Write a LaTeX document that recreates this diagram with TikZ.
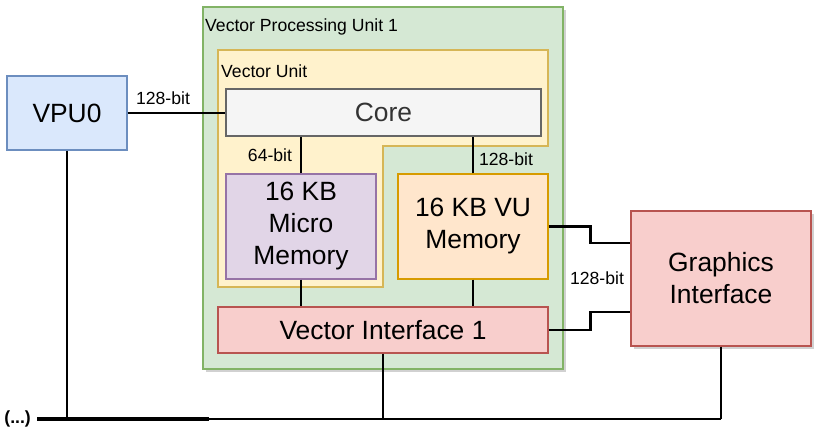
\documentclass[tikz,border=0pt]{standalone}
\usepackage{fontspec}
\setmainfont{Liberation Sans}
\usetikzlibrary{shadows,calc}
\definecolor{gfill}{HTML}{D5E8D4}\definecolor{gline}{HTML}{82B366}
\definecolor{yfill}{HTML}{FFF2CC}\definecolor{yline}{HTML}{D6B656}
\definecolor{cfill}{HTML}{F5F5F5}\definecolor{cline}{HTML}{666666}\definecolor{ctext}{HTML}{333333}
\definecolor{pfill}{HTML}{E1D5E7}\definecolor{pline}{HTML}{9673A6}
\definecolor{ofill}{HTML}{FFE6CC}\definecolor{oline}{HTML}{D79B00}
\definecolor{rfill}{HTML}{F8CECC}\definecolor{rline}{HTML}{B85450}
\definecolor{bfill}{HTML}{DAE8FC}\definecolor{bline}{HTML}{6C8EBF}
\newcommand\bigfont{\fontsize{26.4}{32}\selectfont}
\newcommand\smallfont{\fontsize{17.6}{21}\selectfont}
\begin{document}
\begin{tikzpicture}[x=1pt,y=-1pt,
  blk/.style={draw, line width=1.4pt, inner sep=0pt, align=center, font=\bigfont},
  shad/.style={drop shadow={shadow xshift=2.5pt, shadow yshift=-2.5pt, opacity=0.18, fill=black}},
  thinw/.style={line width=1.1pt},
  thickw/.style={line width=2.9pt},
  lbl/.style={font=\smallfont, inner sep=0pt}]
\useasboundingbox (0,0) rectangle (821,429);
% outer container
\node[blk, shad, fill=gfill, draw=gline, minimum width=360pt, minimum height=362pt] (vpu1) at (383,188) {};
\node[lbl, anchor=west] (vpu1lbl) at (205,27) {Vector Processing Unit 1};
% vector unit (L-shaped)
\draw[line width=1.4pt, draw=yline, fill=yfill] (218,50) -- (548,50) -- (548,146) -- (383,146) -- (383,287) -- (218,287) -- cycle;
\node[lbl, anchor=west] (vulbl) at (221,71) {Vector Unit};
% blocks
\node[blk, fill=cfill, draw=cline, text=ctext, minimum width=315pt, minimum height=47pt] (core) at (383.5,112.5) {Core};
\node[blk, fill=pfill, draw=pline, minimum width=150pt, minimum height=105pt] (micro) at (301,226.5) {16 KB\\Micro\\Memory};
\node[blk, fill=ofill, draw=oline, minimum width=150pt, minimum height=105pt] (vumem) at (473,226.5) {16 KB VU\\Memory};
\node[blk, fill=rfill, draw=rline, minimum width=330pt, minimum height=46pt] (vif) at (383,330) {Vector Interface 1};
\node[blk, shad, fill=rfill, draw=rline, minimum width=180pt, minimum height=135pt] (gif) at (721,278.5) {Graphics\\Interface};
\node[blk, fill=bfill, draw=bline, minimum width=120pt, minimum height=74pt] (vpu0) at (67,113) {VPU0};
\node[font=\smallfont\bfseries, inner sep=0pt, anchor=east] (dots) at (31,419) {(...)};
\coordinate (busend) at (721,419);
% connectors
\draw[thickw] (vpu0.east) -- (vpu0.east -| core.west);
\draw[thinw] (micro.north) -- (micro.north |- core.south);
\draw[thickw] (vumem.north) -- (vumem.north |- core.south);
\draw[thinw] (micro.south) -- (micro.south |- vif.north);
\draw[thickw] (vumem.south) -- (vumem.south |- vif.north);
\draw[thickw] (vumem.east) -- ++(42,0) |- ([yshift=35.5pt]gif.west);
\draw[thickw] (vif.east) -- ++(42,0) |- ([yshift=-33.5pt]gif.west);
\draw[thickw] (vif.south) -- (vif.south |- busend);
\draw[thickw] (vpu0.south) -- (vpu0.south |- busend);
\draw[thickw] (gif.south) -- (busend);
\draw[thickw] ([xshift=6pt]dots.east) -- (busend);
\draw[line width=3.6pt] ([xshift=6pt]dots.east) -- ++(172,0);
% labels
\node[lbl] (l1) at (163,98) {128-bit};
\node[lbl] (l2) at (270,155) {64-bit};
\node[lbl] (l3) at (506,159) {128-bit};
\node[lbl] (l4) at (597,278) {128-bit};
\end{tikzpicture}
\end{document}
